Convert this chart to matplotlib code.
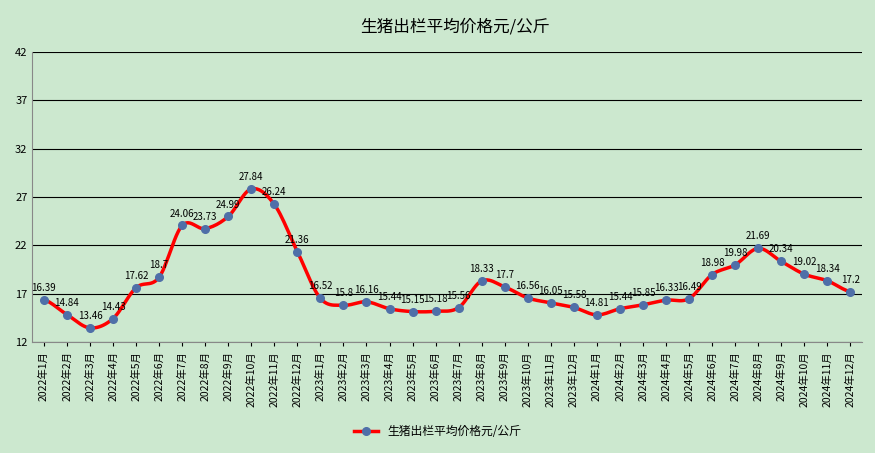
import matplotlib
matplotlib.use("Agg")
import matplotlib.pyplot as plt
from matplotlib import font_manager
import numpy as np

cjk = [f.name for f in font_manager.fontManager.ttflist if "CJK" in f.name]
cjk_name = next((n for n in cjk if n.endswith("SC")), cjk[0] if cjk else "DejaVu Sans")
plt.rcParams["font.family"] = [cjk_name, "DejaVu Sans"]

months = [f"{y}年{m}月" for y in (2022, 2023, 2024) for m in range(1, 13)]
prices = [16.39, 14.84, 13.46, 14.43, 17.62, 18.7, 24.06, 23.73, 24.99, 27.84, 26.24, 21.36,
          16.52, 15.8, 16.16, 15.44, 15.15, 15.18, 15.56, 18.33, 17.7, 16.56, 16.05, 15.58,
          14.81, 15.44, 15.85, 16.33, 16.49, 18.98, 19.98, 21.69, 20.34, 19.02, 18.34, 17.2]
yticks = [12, 17, 22, 27, 32, 37, 42]
title = "生猪出栏平均价格元/公斤"

bg = "#CCE8CF"
fig = plt.figure(figsize=(8.75, 4.53), dpi=100, facecolor=bg)
ax = fig.add_axes([0.037, 0.245, 0.948, 0.64], facecolor=bg)

x = np.arange(len(months))
y = np.array(prices)

# smoothed drawing path (Catmull-Rom) through the data points
px = np.concatenate([[x[0]], x, [x[-1]]])
py = np.concatenate([[y[0]], y, [y[-1]]])
sx, sy = [], []
t = np.linspace(0, 1, 12, endpoint=False)
for i in range(1, len(px) - 2):
    p0, p1, p2, p3 = py[i - 1], py[i], py[i + 1], py[i + 2]
    seg = 0.5 * ((2 * p1) + (-p0 + p2) * t + (2 * p0 - 5 * p1 + 4 * p2 - p3) * t ** 2
                 + (-p0 + 3 * p1 - 3 * p2 + p3) * t ** 3)
    sx.extend(px[i] + t * (px[i + 1] - px[i]))
    sy.extend(seg)
sx.append(x[-1])
sy.append(y[-1])

ax.plot(sx, sy, color="red", lw=2.5, zorder=2)
ax.plot(x, y, ls="none", marker="o", ms=5.5, mfc="#4F6FA8", mec="#4F6FA8", zorder=3)
line, = ax.plot([], [], color="red", lw=2.5, marker="o", ms=5.5,
                mfc="#4F6FA8", mec="#4F6FA8", label=title)
for xi, v in zip(x, prices):
    ax.annotate(f"{v:g}", (xi, v), xytext=(0, 5), textcoords="offset points",
                ha="center", va="bottom", fontsize=7)

ax.set_xlim(-0.5, len(months) - 0.5)
ax.set_ylim(12, 42)
ax.set_yticks(yticks)
ax.set_xticks(x)
ax.set_xticklabels(months, rotation=90, fontsize=7.5)
ax.tick_params(axis="y", labelsize=8, length=0)
ax.tick_params(axis="x", length=3)
ax.grid(axis="y", color="black", lw=0.8)
ax.set_axisbelow(True)
for s in ("top", "right"):
    ax.spines[s].set_visible(False)
ax.spines["left"].set_color("#888888")
ax.spines["bottom"].set_color("#888888")

fig.text(0.52, 0.94, title, ha="center", va="center", fontsize=12)
fig.legend(handles=[line], loc="lower center", bbox_to_anchor=(0.5, 0.01),
           frameon=False, fontsize=8.5)

fig.savefig("out.png", dpi=100, facecolor=bg)
